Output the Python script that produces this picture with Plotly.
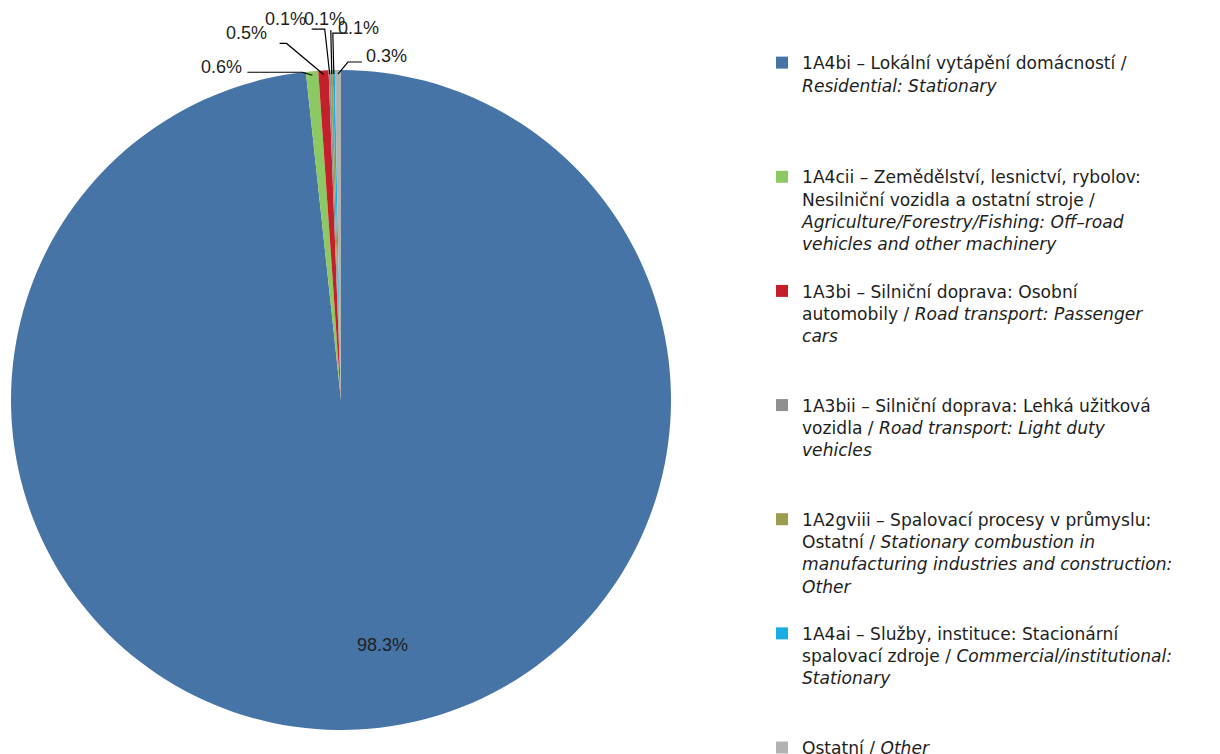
import math
import plotly.graph_objects as go

# ---- data ----
labels_cz = [
    "1A4bi – Lokální vytápění domácností /<br><i>Residential: Stationary</i>",
    "1A4cii – Zemědělství, lesnictví, rybolov:<br>Nesilniční vozidla a ostatní stroje /<br><i>Agriculture/Forestry/Fishing: Off–road</i><br><i>vehicles and other machinery</i>",
    "1A3bi – Silniční doprava: Osobní<br>automobily / <i>Road transport: Passenger</i><br><i>cars</i>",
    "1A3bii – Silniční doprava: Lehká užitková<br>vozidla / <i>Road transport: Light duty</i><br><i>vehicles</i>",
    "1A2gviii – Spalovací procesy v průmyslu:<br>Ostatní / <i>Stationary combustion in</i><br><i>manufacturing industries and construction:</i><br><i>Other</i>",
    "1A4ai – Služby, instituce: Stacionární<br>spalovací zdroje / <i>Commercial/institutional:</i><br><i>Stationary</i>",
    "Ostatní / <i>Other</i>",
]
shares = [98.3, 0.6, 0.5, 0.1, 0.1, 0.1, 0.3]

# ---- style / layout ----
colors = ["#4674A6", "#8DC963", "#C4202B", "#8E9092", "#9C9C4E", "#18AEE3", "#B2B2B2"]
W, H = 1220, 754
CX, CY, R = 333, 392, 330          # pie centre / radius in figure pixels
LEADER_R = R - 4                   # where leader lines end (just inside the rim)
FONT = "Liberation Sans, Arial, sans-serif"
LEG_FONT = "DejaVu Sans, Verdana, sans-serif"
TXT = "#1E1E1E"
LINES_PER_ITEM = 5
# per slice: label centre offset (px) from leader end, elbow offset, horizontal run
big_label_offset = (41, 245)       # from pie centre
leader_style = [
    None,
    ((-91, -8), (-10, -3), -55),
    ((-77, -41), (-37, -31), -7),
    ((-44, -55), (-5, -45), -13),
    ((-7, -55), (-1, -44), 0),
    ((25, -46), (-1, -41), 15),
    ((49, -18), (10, -12), 14),
]

# pad legend names to equal height so entries are evenly spaced
legend_names = []
for i, t in enumerate(labels_cz):
    n = t.count("<br>") + 1
    if i < len(labels_cz) - 1:
        t = t + "<br>\u00a0" * (LINES_PER_ITEM - n)
    legend_names.append(t)

dom_x = [(CX - R) / W, (CX + R) / W]
dom_y = [1 - (CY + R) / H, 1 - (CY - R) / H]

fig = go.Figure(go.Pie(
    labels=legend_names,
    values=shares,
    sort=False,
    direction="clockwise",
    rotation=0,
    marker=dict(colors=colors, line=dict(width=0)),
    textinfo="none",
    domain=dict(x=dom_x, y=dom_y),
    hoverinfo="label+percent",
))


def px2paper(x, y):
    return x / W, 1 - y / H


label_font = dict(family=FONT, size=18, color=TXT)
total = sum(shares)
cum = 0.0
shapes = []
for i, v in enumerate(shares):
    mid = (cum + v / 2) / total * 2 * math.pi
    cum += v
    if leader_style[i] is None:
        lx, ly = CX + big_label_offset[0], CY + big_label_offset[1]
        px_, py_ = px2paper(lx, ly)
        fig.add_annotation(x=px_, y=py_, xref="paper", yref="paper",
                           xanchor="center", yanchor="middle",
                           text=f"{v:.1f}%", showarrow=False, font=label_font)
        continue
    ex = CX + LEADER_R * math.sin(mid)
    ey = CY - LEADER_R * math.cos(mid)
    (tdx, tdy), (edx, edy), run = leader_style[i]
    bx, by = ex + edx, ey + edy
    sx, sy = bx + run, by
    p = [px2paper(sx, sy), px2paper(bx, by), px2paper(ex, ey)]
    shapes.append(dict(
        type="path", xref="paper", yref="paper",
        path=f"M {p[0][0]},{p[0][1]} L {p[1][0]},{p[1][1]} L {p[2][0]},{p[2][1]}",
        line=dict(color="#000000", width=1.2),
    ))
    tx, ty = px2paper(ex + tdx, ey + tdy)
    fig.add_annotation(x=tx, y=ty, xref="paper", yref="paper",
                       xanchor="center", yanchor="middle",
                       text=f"{v:.1f}%", showarrow=False, font=label_font)

fig.update_layout(
    width=W, height=H,
    margin=dict(l=0, r=0, t=0, b=0, autoexpand=False),
    paper_bgcolor="white",
    plot_bgcolor="white",
    shapes=shapes,
    showlegend=True,
    legend=dict(
        x=754 / W, y=1 - 37 / H, xanchor="left", yanchor="top",
        font=dict(family=LEG_FONT, size=17.1, color=TXT),
        valign="top", bgcolor="rgba(0,0,0,0)",
        itemclick=False, maxheight=2000,
    ),
)

fig.write_html("out.html")
